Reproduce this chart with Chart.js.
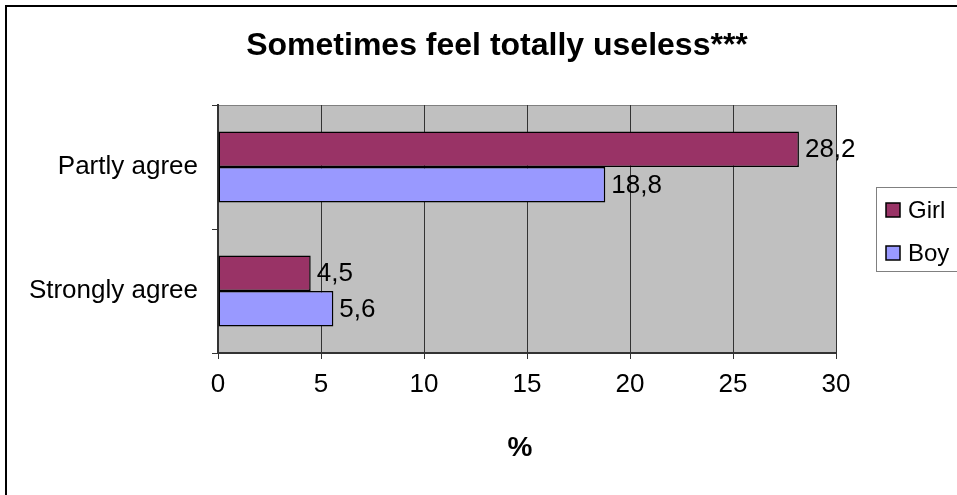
<!DOCTYPE html>
<html>
<head>
<meta charset="utf-8">
<script src="https://cdn.jsdelivr.net/npm/chart.js@4"></script>
<style>
  html, body { margin: 0; padding: 0; background: #fff; }
  #wrap { width: 957px; height: 495px; }
</style>
</head>
<body>
<div id="wrap"><canvas id="barChart" width="957" height="495"></canvas></div>
<script>
const categories = ["Partly agree", "Strongly agree"];
const seriesNames = ["Girl", "Boy"];
const girlValues = [28.2, 4.5];
const boyValues = [18.8, 5.6];
const xTicks = [0, 5, 10, 15, 20, 25, 30];
const chartTitle = "Sometimes feel totally useless***";
const axisTitle = "%";

const FONT = "Arial, 'Liberation Sans', sans-serif";

// background, frame, titles, value labels and legend
const decor = {
  id: "decor",
  beforeDraw(chart) {
    const { ctx, chartArea: a } = chart;
    ctx.save();
    ctx.fillStyle = "#fff";
    ctx.fillRect(0, 0, chart.width, chart.height);
    ctx.fillStyle = "#C0C0C0";
    ctx.fillRect(a.left, a.top, a.right - a.left, a.bottom - a.top);
    ctx.strokeStyle = "#808080";
    ctx.lineWidth = 1;
    ctx.beginPath();
    ctx.moveTo(a.left, a.top + 0.5);
    ctx.lineTo(a.right + 0.5, a.top + 0.5);
    ctx.lineTo(a.right + 0.5, a.bottom);
    ctx.stroke();
    // outer frame (only left + top visible in the picture)
    ctx.strokeStyle = "#000";
    ctx.lineWidth = 2;
    ctx.strokeRect(6, 6, chart.width + 10, chart.height + 10);
    ctx.restore();
  },
  afterDatasetsDraw(chart) {
    const { ctx } = chart;
    ctx.save();
    ctx.fillStyle = "#000";
    ctx.font = "26px " + FONT;
    ctx.textBaseline = "middle";
    ctx.textAlign = "left";
    chart.data.datasets.forEach((ds, i) => {
      chart.getDatasetMeta(i).data.forEach((bar, j) => {
        const txt = ds.data[j].toFixed(1).replace(".", ",");
        ctx.fillText(txt, bar.x + 6, bar.y + 1);
      });
    });

    ctx.textAlign = "center";
    ctx.font = "bold 32px " + FONT;
    ctx.fillText(chartTitle, 497, 46);
    ctx.font = "bold 28px " + FONT;
    ctx.fillText(axisTitle, 520, 448);

    // legend
    ctx.strokeStyle = "#808080";
    ctx.lineWidth = 1;
    ctx.strokeRect(876.5, 187.5, 100, 84);
    ctx.font = "24px " + FONT;
    ctx.textAlign = "left";
    chart.data.datasets.forEach((ds, i) => {
      const y = 210 + i * 43;
      ctx.fillStyle = ds.backgroundColor;
      ctx.fillRect(886, y - 7, 14, 14);
      ctx.strokeStyle = "#000";
      ctx.lineWidth = 1.5;
      ctx.strokeRect(886, y - 7, 14, 14);
      ctx.fillStyle = "#000";
      ctx.fillText(ds.label, 908, y + 1);
    });
    ctx.restore();
  }
};

const ctx = document.getElementById("barChart").getContext("2d");
new Chart(ctx, {
  type: "bar",
  data: {
    labels: categories,
    datasets: [
      {
        label: seriesNames[0],
        data: girlValues,
        backgroundColor: "#993366",
        borderColor: "#000",
        borderWidth: 1.5,
        borderSkipped: false
      },
      {
        label: seriesNames[1],
        data: boyValues,
        backgroundColor: "#9999FF",
        borderColor: "#000",
        borderWidth: 1.5,
        borderSkipped: false
      }
    ]
  },
  options: {
    indexAxis: "y",
    responsive: false,
    animation: false,
    categoryPercentage: 0.573,
    barPercentage: 1,
    layout: { padding: { top: 105, right: 121, left: 0, bottom: 0 } },
    plugins: {
      legend: { display: false },
      title: { display: false },
      tooltip: { enabled: false }
    },
    scales: {
      x: {
        min: 0,
        max: 30,
        afterBuildTicks: (axis) => { axis.ticks = xTicks.map(v => ({ value: v })); },
        afterFit: (axis) => { axis.height = 142; },
        grid: { color: "#333", lineWidth: 1, tickLength: 6, tickColor: "#333" },
        border: { color: "#333", width: 2 },
        ticks: { color: "#000", font: { size: 26, family: FONT }, padding: 10 }
      },
      y: {
        afterFit: (axis) => { axis.width = 218; },
        grid: { drawOnChartArea: false, tickLength: 6, tickColor: "#333", offset: true },
        border: { color: "#333", width: 2 },
        ticks: { color: "#000", font: { size: 26, family: FONT }, padding: 14 }
      }
    }
  },
  plugins: [decor]
});
</script>
</body>
</html>
